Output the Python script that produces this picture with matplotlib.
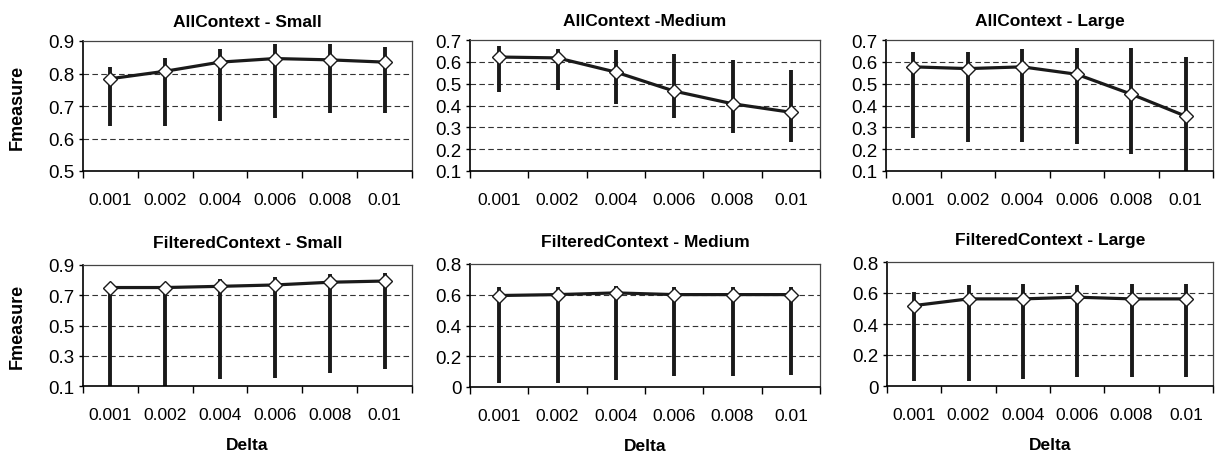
import numpy as np
import matplotlib
matplotlib.use("Agg")
import matplotlib.pyplot as plt

plt.rcParams['font.family'] = ['Liberation Sans', 'DejaVu Sans']

# x categories shared by all panels
deltas = ["0.001", "0.002", "0.004", "0.006", "0.008", "0.01"]

# AllContext - Small
all_small = [0.784, 0.807, 0.835, 0.846, 0.842, 0.835]
all_small_lo = [0.638, 0.638, 0.654, 0.664, 0.680, 0.680]
all_small_hi = [0.819, 0.848, 0.876, 0.890, 0.890, 0.881]

# AllContext - Medium
all_medium = [0.622, 0.618, 0.553, 0.466, 0.408, 0.369]
all_medium_lo = [0.463, 0.471, 0.405, 0.341, 0.273, 0.235]
all_medium_hi = [0.673, 0.657, 0.653, 0.635, 0.607, 0.562]

# AllContext - Large
all_large = [0.577, 0.569, 0.577, 0.543, 0.452, 0.351]
all_large_lo = [0.250, 0.235, 0.235, 0.224, 0.179, 0.080]
all_large_hi = [0.645, 0.645, 0.657, 0.665, 0.665, 0.624]

# FilteredContext - Small
filt_small = [0.751, 0.751, 0.759, 0.768, 0.786, 0.794]
filt_small_lo = [0.05, 0.05, 0.148, 0.155, 0.186, 0.214]
filt_small_hi = [0.770, 0.770, 0.810, 0.821, 0.839, 0.850]

# FilteredContext - Medium
filt_medium = [0.595, 0.601, 0.612, 0.601, 0.601, 0.601]
filt_medium_lo = [0.026, 0.026, 0.043, 0.069, 0.069, 0.080]
filt_medium_hi = [0.653, 0.653, 0.659, 0.653, 0.653, 0.653]

# FilteredContext - Large
filt_large = [0.519, 0.562, 0.562, 0.573, 0.562, 0.562]
filt_large_lo = [0.032, 0.032, 0.043, 0.058, 0.058, 0.058]
filt_large_hi = [0.605, 0.649, 0.659, 0.649, 0.659, 0.659]

panels = [
    ("AllContext - Small", all_small, all_small_lo, all_small_hi, (0.5, 0.9), [0.5, 0.6, 0.7, 0.8, 0.9]),
    ("AllContext -Medium", all_medium, all_medium_lo, all_medium_hi, (0.1, 0.7), [0.1, 0.2, 0.3, 0.4, 0.5, 0.6, 0.7]),
    ("AllContext - Large", all_large, all_large_lo, all_large_hi, (0.1, 0.7), [0.1, 0.2, 0.3, 0.4, 0.5, 0.6, 0.7]),
    ("FilteredContext - Small", filt_small, filt_small_lo, filt_small_hi, (0.1, 0.9), [0.1, 0.3, 0.5, 0.7, 0.9]),
    ("FilteredContext - Medium", filt_medium, filt_medium_lo, filt_medium_hi, (0.0, 0.8), [0, 0.2, 0.4, 0.6, 0.8]),
    ("FilteredContext - Large", filt_large, filt_large_lo, filt_large_hi, (0.0, 0.8), [0, 0.2, 0.4, 0.6, 0.8]),
]

W, H = 1215, 456
# axes boxes in pixels: left, top, right, bottom
boxes = [
    (83, 42, 412, 172),
    (470, 41, 820, 172),
    (886, 41, 1213, 172),
    (83, 266, 412, 387),
    (470, 265, 820, 388),
    (887, 263, 1213, 387),
]

fig = plt.figure(figsize=(W / 100, H / 100), dpi=100)
x = np.arange(len(deltas))

for i, (title, vals, lo, hi, ylim, yticks) in enumerate(panels):
    l, t, r, b = boxes[i]
    ax = fig.add_axes([l / W, 1 - b / H, (r - l) / W, (b - t) / H])
    vals = np.array(vals)
    yerr = [vals - np.array(lo), np.array(hi) - vals]
    ax.errorbar(x, vals, yerr=yerr, fmt='none', ecolor='#1a1a1a', elinewidth=2.8, capsize=0, zorder=2)
    ax.plot(x, vals, color='#1a1a1a', lw=2.3, zorder=3)
    ax.plot(x, vals, 'D', ms=7, mfc='white', mec='#1a1a1a', mew=1.0, zorder=4)

    ax.set_xlim(-0.5, len(deltas) - 0.5)
    ax.set_ylim(*ylim)
    ax.set_yticks(yticks)
    ax.set_yticklabels([f"{v:g}" for v in yticks], fontsize=13.5)
    ax.set_xticks(x)
    ax.set_xticklabels(deltas, fontsize=12.5)
    ax.set_xticks(np.arange(-0.5, len(deltas)), minor=True)
    ax.tick_params(axis='x', which='major', length=0, pad=15)
    ax.tick_params(axis='x', which='minor', length=5, width=1)
    ax.tick_params(axis='y', length=3, width=1, pad=3)
    for yv in yticks[1:-1]:
        ax.axhline(yv, color='#333333', lw=0.8, ls=(0, (5, 3)), zorder=1)
    for s in ['left', 'bottom']:
        ax.spines[s].set_linewidth(1.2)
        ax.spines[s].set_color('black')
    for s in ['top', 'right']:
        ax.spines[s].set_linewidth(0.9)
        ax.spines[s].set_color('#444444')
    ax.set_title(title, fontsize=12.5, fontweight='bold', pad=11 if i < 3 else 13)
    if i % 3 == 0:
        ax.set_ylabel("Fmeasure", fontsize=13, fontweight='bold')
        ax.yaxis.set_label_coords((26 - l) / (r - l), 0.5)
    if i >= 3:
        ax.set_xlabel("Delta", fontsize=12.5, fontweight='bold', labelpad=11)

fig.savefig("out.png", dpi=100)
